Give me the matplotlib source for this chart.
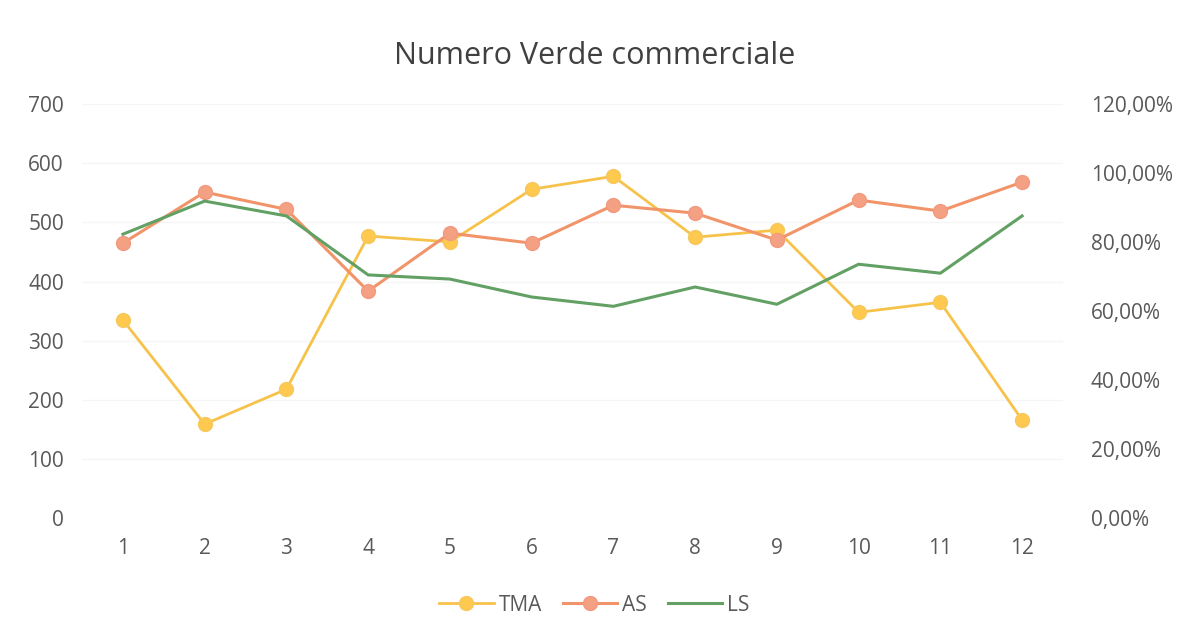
import matplotlib.pyplot as plt
from matplotlib.ticker import FuncFormatter

plt.rcParams['font.family'] = ['Open Sans', 'DejaVu Sans']

months = list(range(1, 13))
tma = [335, 159, 218, 477, 467, 556, 578, 475, 487, 348, 365, 166]
as_pct = [0.797, 0.945, 0.895, 0.658, 0.826, 0.797, 0.907, 0.884, 0.806, 0.922, 0.890, 0.974]
ls_pct = [0.823, 0.919, 0.876, 0.705, 0.693, 0.641, 0.614, 0.670, 0.620, 0.736, 0.710, 0.876]

grey = "#595959"

fig = plt.figure(figsize=(11.89, 6.35), dpi=100)
ax = fig.add_axes([0.069, 0.184, 0.825, 0.652])

l1 = ax.plot(months, tma, color="#F7C24A", linewidth=2, marker="o", markersize=10,
             markerfacecolor="#FFC84E", markeredgecolor="#F5C860", label="TMA")
ax.set_xlim(0.5, 12.5)
ax.set_ylim(0, 700)
ax.set_yticks(range(0, 701, 100))
ax.set_xticks(months)
ax.grid(axis="y", color="#F5F5F5", linewidth=1)
ax.set_axisbelow(True)
ax.tick_params(axis="y", length=0, pad=13, labelsize=15, labelcolor=grey)
ax.tick_params(axis="x", length=0, pad=14, labelsize=15, labelcolor=grey)
for s in ax.spines.values():
    s.set_visible(False)

axb = ax.twinx()
l2 = axb.plot(months, as_pct, color="#F2946A", linewidth=2.2, marker="o", markersize=10,
              markerfacecolor="#F4A083", markeredgecolor="#F29A80", label="AS")
l3 = axb.plot(months, ls_pct, color="#62A063", linewidth=2.2, label="LS")
axb.set_ylim(0, 1.2)
axb.set_yticks([0, 0.2, 0.4, 0.6, 0.8, 1.0, 1.2])
axb.yaxis.set_major_formatter(FuncFormatter(lambda v, p: f"{v*100:.2f}%".replace(".", ",")))
axb.tick_params(axis="y", length=0, pad=20, labelsize=15, labelcolor=grey)
for s in axb.spines.values():
    s.set_visible(False)

fig.suptitle("Numero Verde commerciale", y=0.935, fontsize=22, color="#404040")

lns = l1 + l2 + l3
labs = [l.get_label() for l in lns]
fig.legend(lns, labs, loc="center", bbox_to_anchor=(0.5, 0.047), ncol=3, frameon=False,
           fontsize=15, labelcolor=grey, handlelength=2.6, handletextpad=0.25, columnspacing=1.0)

plt.savefig("out.png", format="png")
plt.close(fig)
